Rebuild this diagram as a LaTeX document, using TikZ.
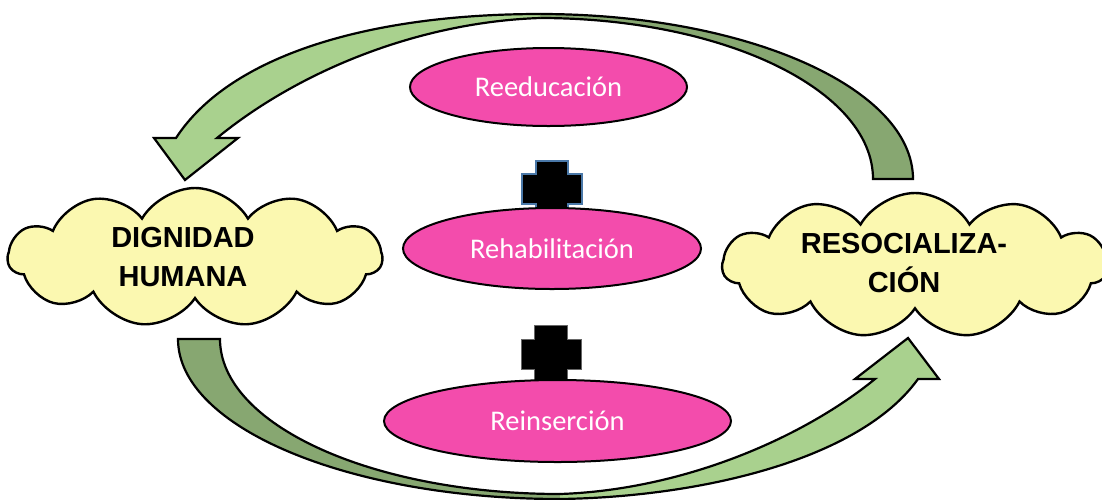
\documentclass[tikz,border=0pt]{standalone}
\usepackage{fontspec}
\newfontfamily\calib{Carlito}
\newfontfamily\arialb{Liberation Sans}
\usetikzlibrary{shapes.geometric,shapes.symbols}
\definecolor{lgreen}{HTML}{A9D18E}
\definecolor{dgreen}{HTML}{87A771}
\definecolor{cloudy}{HTML}{FBF8B0}
\definecolor{pinkfill}{HTML}{F34CAC}
\definecolor{plusblue}{HTML}{4A78A8}
\tikzset{
  cloudbox/.style={cloud, cloud puffs=11, cloud puff arc=120, draw=black, fill=cloudy, line width=2.4pt, inner sep=0pt},
  ovalbox/.style={ellipse, draw=black, fill=pinkfill, line width=2pt, inner sep=0pt, text=white, font=\calib\fontsize{28.5}{34}\selectfont},
  bigtext/.style={align=center, font=\arialb\bfseries\fontsize{29}{39}\selectfont, inner sep=0pt},
  outline/.style={draw=black, line width=2.2pt, line join=miter},
  plusshape/.style={fill=black, draw=plusblue, line width=1.5pt},
  plainplus/.style={fill=black, draw=black!60, line width=0.5pt}
}
\begin{document}
\begin{tikzpicture}[x=1pt, y=-1pt]
\useasboundingbox (0,0) rectangle (1102,499);
\fill[white] (0,0) rectangle (1102,499);

% clouds
\node[cloudbox, minimum width=374pt, minimum height=139pt] (dh) at (195,257.5) {};
\node[cloudbox, minimum width=385pt, minimum height=145pt] (res) at (915,265.5) {};
\node[bigtext] (dhtext) at (183,257.5) {DIGNIDAD\\HUMANA};
\node[bigtext] (restext) at (904,263) {RESOCIALIZA-\\CIÓN};

% top curved arrow (back part, dark)
\fill[dgreen] (540,14) .. controls (746,14) and (913,87.9) .. (913,179)
  -- (873,179) .. controls (873,90.1) and (723.9,18) .. (540,18) -- cycle;
\path[outline] (540,14) .. controls (746,14) and (913,87.9) .. (913,179)
  -- (873,179) .. controls (873,90.1) and (723.9,18) .. (540,18);
% top curved arrow (front part, light, with head)
\fill[lgreen] (540,18) .. controls (420,22) and (300,70) .. (217,138)
  -- (238,138) -- (185,180) -- (154,138) -- (176,138)
  .. controls (230,55) and (370,14) .. (540,14) -- cycle;
\path[outline] (540,18) .. controls (420,22) and (300,70) .. (217,138)
  -- (238,138) -- (185,180) -- (154,138) -- (176,138)
  .. controls (230,55) and (370,14) .. (540,14);

% bottom curved arrow (back part, dark)
\fill[dgreen] (560,494) .. controls (372.2,494) and (220,424.6) .. (220,339) -- (178,339)
  .. controls (178,427.4) and (349,499) .. (560,499) -- cycle;
\path[outline] (560,494) .. controls (372.2,494) and (220,424.6) .. (220,339) -- (178,339)
  .. controls (178,427.4) and (349,499) .. (560,499);
% bottom curved arrow (front part, light, with head)
\fill[lgreen] (560,494) .. controls (680,490) and (800,440) .. (875,379)
  -- (855,379) -- (908,338) -- (939,379) -- (918,379)
  .. controls (860,460) and (700,497) .. (560,499) -- cycle;
\path[outline] (560,494) .. controls (680,490) and (800,440) .. (875,379)
  -- (855,379) -- (908,338) -- (939,379) -- (918,379)
  .. controls (860,460) and (700,497) .. (560,499);

% plus signs
\path[plusshape] (536,161) -- (568,161) -- (568,174) -- (582,174) -- (582,204) -- (568,204)
  -- (568,222) -- (536,222) -- (536,204) -- (522,204) -- (522,174) -- (536,174) -- cycle;
\path[plainplus] (534,325) -- (567,325) -- (567,339) -- (581,339) -- (581,369) -- (567,369)
  -- (567,386) -- (534,386) -- (534,369) -- (521,369) -- (521,339) -- (534,339) -- cycle;

% ellipses
\node[ovalbox, minimum width=277pt, minimum height=78pt] (reed) at (548.5,87) {Reeducación};
\node[ovalbox, minimum width=298pt, minimum height=81pt] (rehab) at (552,248.5) {Rehabilitación};
\node[ovalbox, minimum width=347pt, minimum height=82pt] (reins) at (557.5,421) {Reinserción};
\end{tikzpicture}
\end{document}
